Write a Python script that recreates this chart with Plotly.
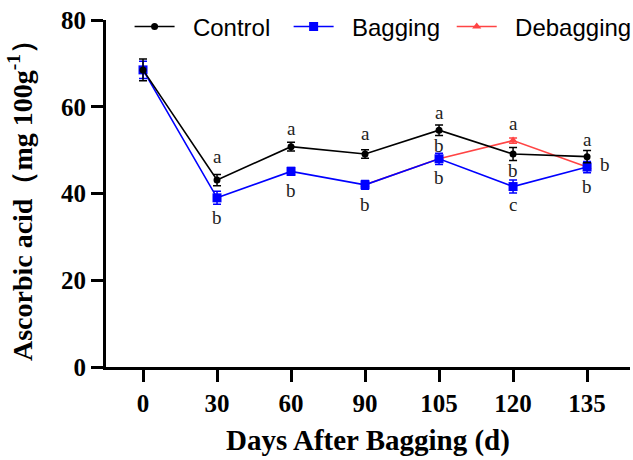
import plotly.graph_objects as go

days = ["0", "30", "60", "90", "105", "120", "135"]

control = [68.5, 43.1, 50.8, 49.1, 54.6, 49.1, 48.5]
control_err = [2.5, 1.3, 1.0, 1.0, 1.2, 1.5, 1.4]

bagging = [68.5, 39.0, 45.1, 42.0, 48.0, 41.6, 46.1]
bagging_err = [2.0, 1.5, 0.9, 1.0, 1.3, 1.5, 1.3]

debag_days = ["90", "105", "120", "135"]
debagging = [42.0, 48.0, 52.2, 46.1]
debagging_err = [0.0, 0.0, 0.6, 0.0]

# letters: (day, series, letter, yshift px, xshift px)
letters = [
    ("30", "control", "a", 24, 0), ("30", "bagging", "b", -20, 0),
    ("60", "control", "a", 18, 0), ("60", "bagging", "b", -19, 0),
    ("90", "control", "a", 21, 0), ("90", "bagging", "b", -20, 0),
    ("105", "control", "a", 18, 0), ("105", "control", "b", -15, 0), ("105", "bagging", "b", -19, 0),
    ("120", "debagging", "a", 17, 0), ("120", "control", "b", -16, 0), ("120", "bagging", "c", -18, 0),
    ("135", "control", "a", 17, 0), ("135", "bagging", "b", 3, 18), ("135", "bagging", "b", -19, 0),
]

series = {
    "control": dict(zip(days, control)),
    "bagging": dict(zip(days, bagging)),
    "debagging": dict(zip(debag_days, debagging)),
}

NB = "\u00a0"
fig = go.Figure()
fig.add_trace(go.Scatter(
    x=debag_days, y=debagging, name=NB * 2 + "Debagging", mode="lines+markers",
    line=dict(color="#FF4444", width=1.6),
    marker=dict(symbol="triangle-up", size=8, color="#FF4444"),
    error_y=dict(type="data", array=debagging_err, color="#FF4444", thickness=1.5, width=4),
))
fig.add_trace(go.Scatter(
    x=days, y=bagging, name=NB * 2 + "Bagging" + NB, mode="lines+markers",
    line=dict(color="#0000FF", width=1.6),
    marker=dict(symbol="square", size=9, color="#0000FF"),
    error_y=dict(type="data", array=bagging_err, color="#0000FF", thickness=1.5, width=4),
))
fig.add_trace(go.Scatter(
    x=days, y=control, name=NB * 2 + "Control" + NB * 2, mode="lines+markers",
    line=dict(color="black", width=1.6),
    marker=dict(symbol="circle", size=7, color="black"),
    error_y=dict(type="data", array=control_err, color="black", thickness=1.5, width=4),
))

for d, s, t, ys, xs in letters:
    fig.add_annotation(
        x=days.index(d), y=series[s][d], text=t, showarrow=False,
        xref="x", yref="y",
        yshift=ys, xshift=xs, yanchor="middle",
        font=dict(family="Liberation Serif", size=19, color="#222"),
    )

fig.add_annotation(
    text="<b>Ascorbic acid（mg 100g<sup>-1</sup>）</b>", textangle=-90,
    xref="paper", yref="paper", x=-0.163, y=0.5, xanchor="center", yanchor="middle",
    showarrow=False, font=dict(family="Liberation Serif", size=28, color="black"),
)

fig.update_layout(
    width=633, height=460,
    margin=dict(l=106, r=3, t=20, b=93, autoexpand=False),
    plot_bgcolor="white", paper_bgcolor="white",
    showlegend=True,
    legend=dict(
        orientation="h", x=0.045, y=1.045, xanchor="left", yanchor="top",
        font=dict(family="Liberation Sans", size=24, color="black"),
        traceorder="reversed", bgcolor="rgba(0,0,0,0)", itemwidth=40,
    ),
    xaxis=dict(
        type="category", categoryorder="array", categoryarray=days,
        range=[-0.5, 6.58], showgrid=False, zeroline=False,
        showline=True, linecolor="black", linewidth=3,
        ticks="outside", ticklen=12, tickwidth=2.5, tickcolor="black",
        tickfont=dict(family="Liberation Serif", size=25, color="black", weight="bold"),
        title=dict(text="<b>Days After Bagging (d)</b>", standoff=14,
                   font=dict(family="Liberation Serif", size=29, color="black")),
    ),
    yaxis=dict(
        range=[0, 80], tickvals=[0, 20, 40, 60, 80], showgrid=False, zeroline=False,
        showline=True, linecolor="black", linewidth=3,
        ticks="outside", ticklen=12, tickwidth=2.5, tickcolor="black",
        tickfont=dict(family="Liberation Serif", size=25, color="black", weight="bold"),
    ),
)

fig.write_html("out.html")
